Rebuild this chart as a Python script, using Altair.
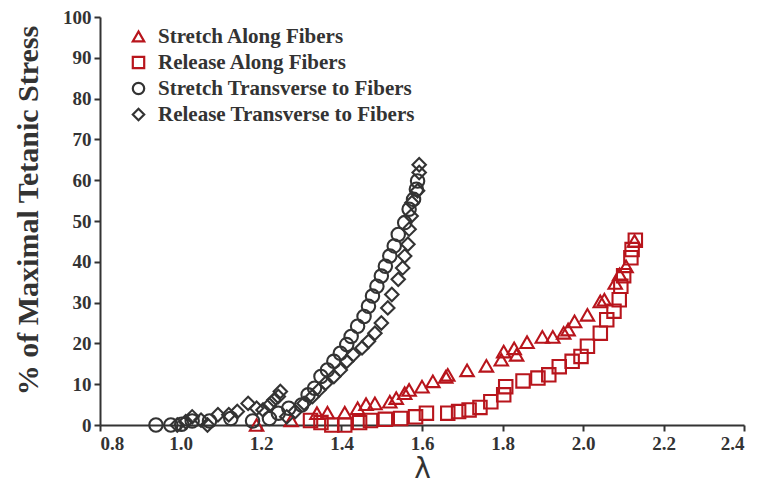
import altair as alt
import pandas as pd

# Stretch along fibers (triangles)
sa_lam = [1.189, 1.275, 1.339, 1.365, 1.408, 1.440, 1.461, 1.483, 1.520, 1.536, 1.557, 1.568, 1.600, 1.627, 1.659, 1.664,
          1.712, 1.760, 1.797, 1.803, 1.829, 1.835, 1.861, 1.899, 1.925, 1.952, 1.963, 1.979, 2.011, 2.043, 2.053,
          2.080, 2.091, 2.107, 2.128]
sa_y = [0.0, 1.1, 2.9, 3.0, 3.0, 4.1, 5.1, 5.3, 5.7, 6.6, 7.8, 8.6, 9.4, 10.7, 11.8, 12.3,
        13.4, 14.5, 16.0, 18.0, 18.8, 17.2, 20.3, 21.6, 21.6, 22.6, 23.4, 25.4, 27.0, 30.3, 30.7,
        34.8, 36.9, 38.9, 45.1]

# Release along fibers (squares)
ra_lam = [2.130, 2.122, 2.119, 2.101, 2.094, 2.090, 2.077, 2.059, 2.043, 2.011, 1.995, 1.973, 1.941, 1.915, 1.888,
          1.851, 1.808, 1.803, 1.771, 1.744, 1.717, 1.691, 1.664, 1.611, 1.584, 1.547, 1.509, 1.472, 1.445,
          1.408, 1.376, 1.349, 1.323]
ra_y = [45.3, 43.0, 41.0, 36.6, 34.0, 30.7, 27.9, 25.8, 22.5, 19.3, 16.8, 15.6, 14.3, 12.3, 11.5,
        10.8, 9.4, 7.4, 5.7, 4.3, 3.7, 3.3, 2.9, 2.9, 2.0, 1.6, 1.4, 1.1, 0.6,
        0.0, 0.0, 0.6, 1.1]

# Stretch transverse to fibers (circles)
st_lam = [0.939, 0.976, 1.003, 1.029, 1.072, 1.125, 1.179, 1.221, 1.243, 1.269, 1.301, 1.317, 1.333, 1.349,
          1.365, 1.381, 1.397, 1.413, 1.424, 1.440, 1.456, 1.467, 1.477, 1.488, 1.499, 1.509, 1.520, 1.531,
          1.541, 1.557, 1.568, 1.579, 1.586, 1.589]
st_y = [0.0, 0.0, 0.2, 1.0, 1.0, 1.6, 1.0, 1.6, 2.9, 4.1, 4.9, 7.4, 9.0, 11.9,
        13.5, 15.6, 17.6, 19.7, 21.7, 24.2, 26.6, 29.1, 31.6, 34.0, 36.5, 38.9, 41.4, 43.9,
        46.7, 49.6, 52.9, 55.3, 57.8, 59.8]

# Release transverse to fibers (diamonds)
rt_lam = [1.593, 1.593, 1.589, 1.575, 1.573, 1.568, 1.565, 1.557, 1.552, 1.541, 1.525, 1.515, 1.499, 1.483,
          1.467, 1.451, 1.429, 1.413, 1.397, 1.381, 1.360, 1.344, 1.328, 1.307, 1.285, 1.264, 1.248, 1.243,
          1.232, 1.221, 1.205, 1.189, 1.168, 1.141, 1.120, 1.093, 1.067, 1.051, 1.029, 1.013, 0.992]
rt_y = [63.8, 61.9, 57.4, 54.5, 51.2, 48.0, 44.3, 41.4, 38.5, 35.7, 32.0, 28.7, 25.0, 22.5,
        20.5, 18.9, 17.2, 15.6, 13.5, 11.9, 10.2, 8.6, 7.0, 5.3, 3.3, 2.0, 8.2, 7.0,
        6.1, 4.9, 3.7, 4.1, 5.3, 3.3, 2.5, 2.5, 0.0, 1.2, 2.0, 0.8, 0.0]

series_names = [
    "Stretch Along Fibers",
    "Release Along Fibers",
    "Stretch Transverse to Fibers",
    "Release Transverse to Fibers",
]
series_shapes = ["triangle-up", "square", "circle", "diamond"]
series_colors = ["#b8151c", "#b8151c", "#333333", "#333333"]

x_ticks = [0.8, 1.0, 1.2, 1.4, 1.6, 1.8, 2.0, 2.2, 2.4]
y_ticks = [0, 10, 20, 30, 40, 50, 60, 70, 80, 90, 100]

frames = []
for name, lam, y in zip(series_names, [sa_lam, ra_lam, st_lam, rt_lam], [sa_y, ra_y, st_y, rt_y]):
    frames.append(pd.DataFrame({"lam": lam, "stress": y, "series": name}))
df = pd.concat(frames, ignore_index=True)

serif = "Liberation Serif"

chart = (
    alt.Chart(df)
    .mark_point(filled=False, size=180, strokeWidth=2.1, opacity=1)
    .encode(
        x=alt.X(
            "lam:Q",
            scale=alt.Scale(domain=[0.8, 2.4], nice=False, zero=False),
            axis=alt.Axis(
                values=x_ticks,
                format=".1f",
                title="λ",
                titleFont="DejaVu Sans",
                titleFontSize=28,
                titleFontWeight="normal",
                titleColor="#333333",
                titleX=322,
                titleY=44,
                titleBaseline="middle",
            ),
        ),
        y=alt.Y(
            "stress:Q",
            scale=alt.Scale(domain=[0, 100], nice=False),
            axis=alt.Axis(
                values=y_ticks,
                title="% of Maximal Tetanic Stress",
                titleFontSize=30,
                titleX=-72,
                titleY=193,
                titleAlign="center",
                titleBaseline="middle",
                titleAngle=270,
            ),
        ),
        color=alt.Color(
            "series:N",
            scale=alt.Scale(domain=series_names, range=series_colors),
            legend=alt.Legend(
                title=None,
                orient="none",
                legendX=28,
                legendY=9,
                labelFontSize=21,
                labelFont=serif,
                labelFontWeight="bold",
                labelColor="#333333",
                labelLimit=0,
                symbolStrokeWidth=2.2,
                symbolSize=130,
                rowPadding=4,
                labelOffset=9,
                padding=0,
            ),
        ),
        shape=alt.Shape(
            "series:N",
            scale=alt.Scale(domain=series_names, range=series_shapes),
            legend=None,
        ),
    )
    .properties(
        width=644,
        height=408,
        autosize=alt.AutoSizeParams(type="none"),
        padding={"left": 100, "top": 17, "right": 15, "bottom": 68},
        background="white",
    )
    .configure_view(stroke=None)
    .configure_axis(
        grid=False,
        domainColor="#333333",
        domainWidth=2,
        tickColor="#333333",
        tickWidth=2,
        tickSize=6,
        labelFont=serif,
        labelFontSize=19,
        labelFontWeight="bold",
        labelColor="#333333",
        labelPadding=3,
        titleFont=serif,
        titleFontWeight="bold",
        titleColor="#333333",
    )
)

chart.save("out.html", embed_options={"renderer": "svg", "actions": False})
